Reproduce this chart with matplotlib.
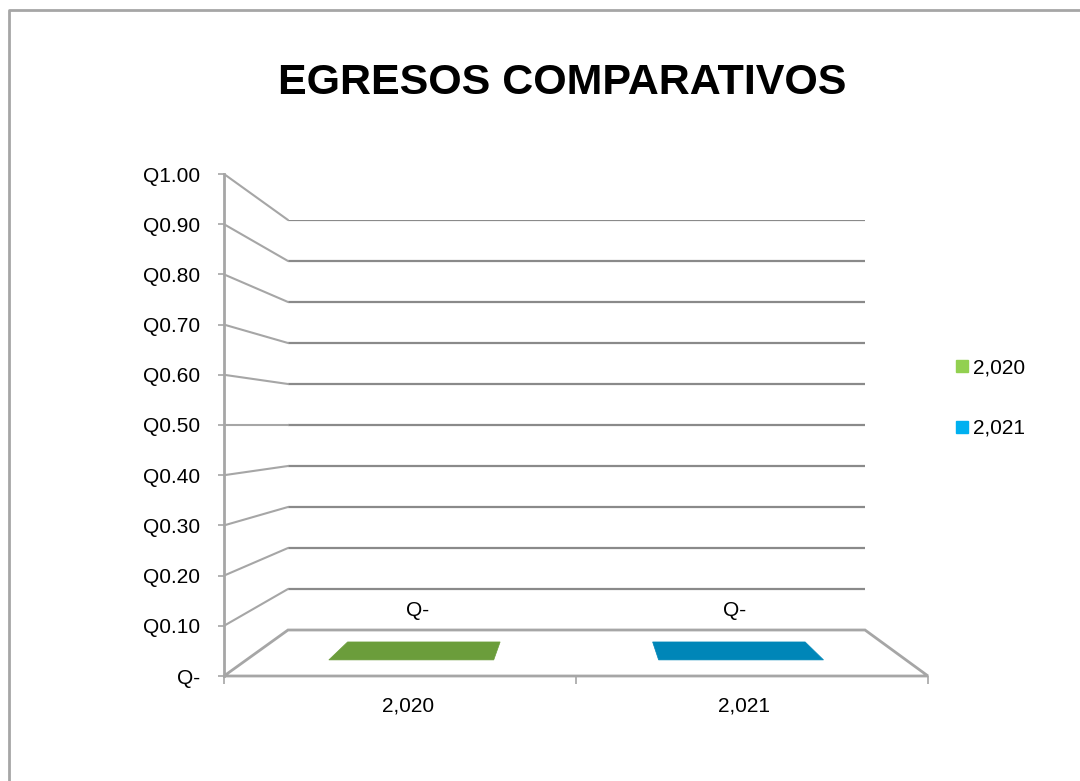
import matplotlib
matplotlib.use('Agg')
import matplotlib.pyplot as plt
from matplotlib.patches import Polygon, ConnectionPatch
from matplotlib.lines import Line2D
import matplotlib.transforms as mtransforms
import numpy as np

# ---------------- data ----------------
title = 'EGRESOS COMPARATIVOS'
categories = ['2,020', '2,021']
values = [0.0, 0.0]
data_labels = ['Q-', 'Q-']
series_names = ['2,020', '2,021']
legend_colors = ['#92d050', '#00b0f0']
bar_colors = ['#6b9d3b', '#0086b8']
y_ticks = [0.0, 0.1, 0.2, 0.3, 0.4, 0.5, 0.6, 0.7, 0.8, 0.9, 1.0]
y_tick_labels = ['Q-', 'Q0.10', 'Q0.20', 'Q0.30', 'Q0.40', 'Q0.50',
                 'Q0.60', 'Q0.70', 'Q0.80', 'Q0.90', 'Q1.00']

plt.rcParams['font.family'] = ['Liberation Sans', 'DejaVu Sans']

W, H = 1080, 781
fig = plt.figure(figsize=(W / 100, H / 100), dpi=100)
fig.patch.set_facecolor('white')

FS = 15


def frame(x0, y0, x1, y1):
    return [x0 / W, 1 - y1 / H, (x1 - x0) / W, (y1 - y0) / H]


grid_col = '#8a8a8a'
edge_col = '#a6a6a6'

# back wall and front plane of the pseudo-3D box
ax_back = fig.add_axes(frame(288, 220, 865, 630))
ax_front = fig.add_axes(frame(224, 174, 928, 676))
ncat = len(categories)
for a in (ax_back, ax_front):
    a.set_xlim(0, ncat)
    a.set_ylim(0, 1)
    a.patch.set_visible(False)

ax_back.axis('off')
ax_back.hlines(y_ticks[1:], 0, ncat, colors=grid_col, lw=1.6)

for s in ('top', 'right', 'bottom'):
    ax_front.spines[s].set_visible(False)
ax_front.spines['left'].set_color(edge_col)
ax_front.spines['left'].set_linewidth(2)
ax_front.set_yticks(y_ticks, y_tick_labels)
ax_front.tick_params(axis='y', direction='out', length=4.5, width=1.2,
                     color=edge_col, labelsize=FS, pad=13)
ax_front.set_xticks([])
ax_front.set_xticks(np.arange(ncat + 1), minor=True)
ax_front.tick_params(axis='x', which='minor', direction='out', length=6,
                     width=1.2, color=edge_col, labelbottom=False)

to_fig = fig.transFigure.inverted()


def pt(a, u, v):
    return np.array(to_fig.transform(a.transData.transform((u, v))))


def proj(u, v, d):
    pf = pt(ax_front, u, v)
    pb = pt(ax_back, u, v)
    return pf + d * (pb - pf)


# side-wall diagonals
for v in y_ticks[1:]:
    cp = ConnectionPatch((0, v), (0, v), coordsA=ax_front.transData,
                         coordsB=ax_back.transData, color=edge_col, lw=1.5)
    fig.add_artist(cp)

# floor
floor = [pt(ax_front, 0, 0), pt(ax_front, ncat, 0),
         pt(ax_back, ncat, 0), pt(ax_back, 0, 0)]
fig.add_artist(Polygon(floor, closed=True, transform=fig.transFigure,
                       facecolor='white', edgecolor=edge_col, lw=2, zorder=2))

# bars
bw = 0.5
d0, d1 = 0.35, 0.74
label_off = mtransforms.offset_copy(fig.transFigure, fig=fig, x=0, y=40,
                                    units='dots')
for i, val in enumerate(values):
    u0, u1 = i + 0.5 - bw / 2, i + 0.5 + bw / 2
    if val > 0:
        front_face = [proj(u0, 0, d0), proj(u1, 0, d0),
                      proj(u1, val, d0), proj(u0, val, d0)]
        fig.add_artist(Polygon(front_face, transform=fig.transFigure,
                               facecolor=legend_colors[i], lw=0, zorder=3))
    top = [proj(u0, val, d0), proj(u1, val, d0),
           proj(u1, val, d1), proj(u0, val, d1)]
    fig.add_artist(Polygon(top, transform=fig.transFigure,
                           facecolor=bar_colors[i], edgecolor=bar_colors[i],
                           lw=0.5, zorder=3))
    c = proj(i + 0.5, val, (d0 + d1) / 2)
    fig.text(c[0], c[1], data_labels[i], transform=label_off, ha='center',
             va='center', fontsize=FS, zorder=4)

# category labels
cat_off = mtransforms.offset_copy(fig.transFigure, fig=fig, x=0, y=-30,
                                  units='dots')
for i, cat in enumerate(categories):
    c = proj(i + 0.5, 0, 0.25)
    base = pt(ax_front, i + 0.5, 0)
    fig.text(c[0], base[1], cat, ha='center', va='center', fontsize=FS,
             transform=cat_off)

# legend
handles = [Line2D([], [], marker='s', linestyle='none', markersize=8,
                  color=c) for c in legend_colors]
fig.legend(handles, series_names, loc='center left',
           bbox_to_anchor=(956 / W, 1 - 398 / H), frameon=False,
           handlelength=0.55, handletextpad=0.25, labelspacing=2.0,
           fontsize=FS, borderpad=0, borderaxespad=0)

# title
fig.text(562 / W, 1 - 83 / H, title, ha='center', va='center',
         fontsize=31, fontweight='bold')

# chart-area border (top and left edges visible)
fig.add_artist(Line2D([8.5 / W, 8.5 / W, 1.0], [0.0, 1 - 10 / H, 1 - 10 / H],
                      transform=fig.transFigure, color=edge_col, lw=2))

fig.savefig('out.png', dpi=100, facecolor='white')
